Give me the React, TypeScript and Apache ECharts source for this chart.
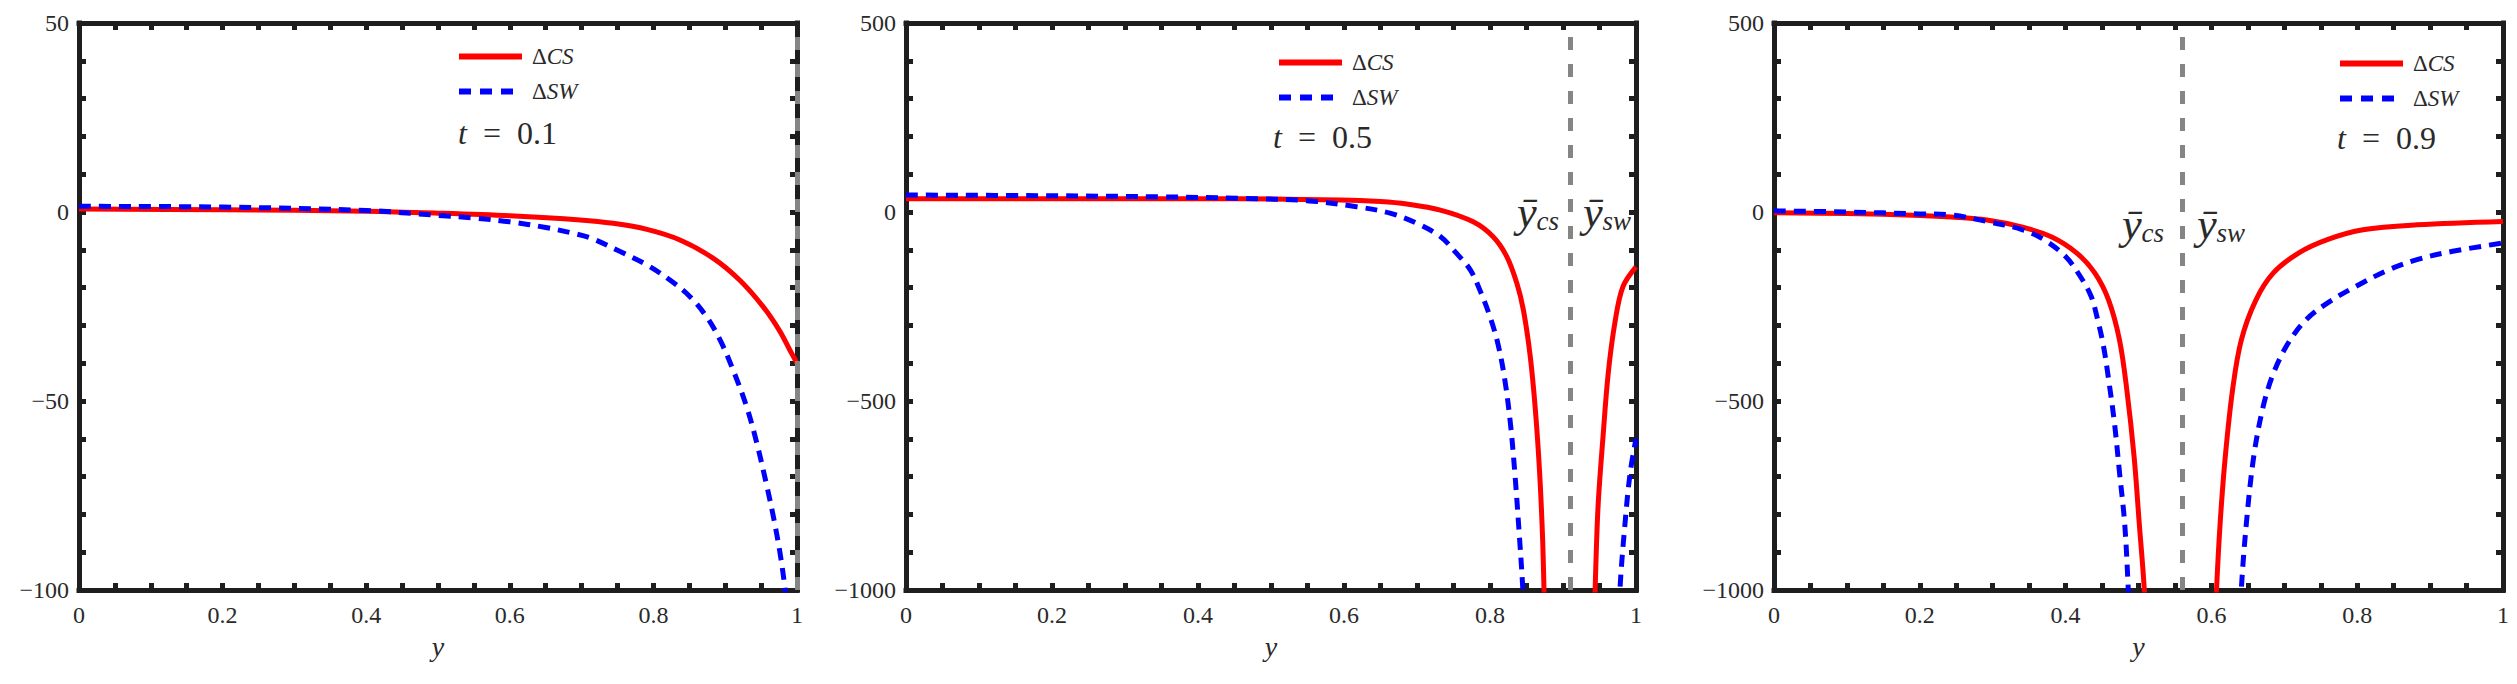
import React, { useEffect, useRef } from "react";
import * as echarts from "echarts";

// ---- data ----
const panelTimes = ["0.1", "0.5", "0.9"];
const barPositions = [0.997, 0.908, 0.556];
const yMins = [-100, -1000, -1000];
const yMaxs = [50, 500, 500];
const yIntervals = [50, 500, 500];
const seriesNames = ["ΔCS", "ΔSW"];

// panel 1 (t = 0.1)
const p1Cs = [[0, 0.8], [0.2, 0.6], [0.4, 0.2], [0.5, -0.3], [0.6, -1.0], [0.698, -2.1], [0.744, -3.0], [0.791, -4.6], [0.837, -7.4], [0.883, -12.2], [0.92, -18.0], [0.953, -25.1], [0.976, -31.5], [0.99, -36.5], [1, -40]];
const p1Sw = [[0, 1.5], [0.2, 1.3], [0.4, 0.4], [0.5, -0.9], [0.55, -1.6], [0.6, -2.6], [0.65, -4.1], [0.69, -5.7], [0.714, -7.0], [0.753, -10.4], [0.791, -14.0], [0.823, -18.0], [0.851, -22.4], [0.874, -27.7], [0.893, -33.9], [0.911, -41.8], [0.93, -51.6], [0.944, -61.1], [0.958, -72.5], [0.967, -80.5], [0.976, -89.8], [0.983, -99.2], [0.986, -106]];

// panel 2 (t = 0.5)
const p2CsLeft = [[0, 35], [0.2, 35], [0.4, 35], [0.458, 35], [0.595, 32], [0.65, 27.5], [0.686, 21], [0.732, 5], [0.777, -26], [0.804, -65], [0.823, -118], [0.837, -190], [0.846, -262], [0.855, -380], [0.862, -520], [0.868, -690], [0.872, -860], [0.874, -1000], [0.876, -1150]];
const p2CsRight = [[0.942, -1150], [0.944, -1000], [0.948, -780], [0.955, -590], [0.962, -426], [0.971, -294], [0.982, -198], [1, -145]];
const p2SwLeft = [[0, 45], [0.2, 43], [0.35, 40], [0.458, 36], [0.549, 30], [0.617, 14], [0.663, -3], [0.7, -30], [0.732, -65], [0.754, -109], [0.773, -153], [0.786, -206], [0.8, -277], [0.811, -350], [0.82, -440], [0.828, -560], [0.834, -690], [0.84, -850], [0.845, -1000], [0.848, -1150]];
const p2SwRight = [[0.976, -1150], [0.978, -1000], [0.985, -823], [0.992, -690], [1, -600]];

// panel 3 (t = 0.9)
const p3CsLeft = [[0, -2], [0.1, -4], [0.2, -9], [0.243, -13], [0.292, -21], [0.341, -40], [0.381, -66], [0.415, -108], [0.44, -161], [0.459, -233], [0.474, -339], [0.484, -471], [0.494, -648], [0.501, -823], [0.508, -1000], [0.511, -1150]];
const p3CsRight = [[0.604, -1150], [0.607, -1000], [0.612, -823], [0.619, -648], [0.629, -471], [0.641, -339], [0.661, -233], [0.685, -161], [0.72, -108], [0.759, -73], [0.808, -47], [0.882, -34], [1, -25]];
const p3SwLeft = [[0, 3], [0.1, 0], [0.2, -5], [0.243, -8], [0.292, -25], [0.341, -47], [0.371, -74], [0.4, -118], [0.42, -170], [0.435, -223], [0.444, -285], [0.452, -355], [0.459, -443], [0.467, -558], [0.474, -690], [0.481, -823], [0.486, -1000], [0.489, -1150]];
const p3SwRight = [[0.638, -1150], [0.641, -1000], [0.648, -823], [0.658, -648], [0.671, -515], [0.685, -427], [0.705, -348], [0.73, -285], [0.759, -241], [0.798, -197], [0.843, -153], [0.882, -126], [0.931, -104], [1, -82]];

const csBranches = [[p1Cs], [p2CsLeft, p2CsRight], [p3CsLeft, p3CsRight]];
const swBranches = [[p1Sw], [p2SwLeft, p2SwRight], [p3SwLeft, p3SwRight]];

// ---- layout / style ----
const FONT = "Liberation Serif";
const FRAME = "#1e1e1e";
const TEXT = "#2a2a2a";
const RED = "#ff0000";
const BLUE = "#0000ff";
const GRAY = "#858585";
const grids = [
  { left: 79, top: 23, width: 718, height: 567 },
  { left: 906, top: 23, width: 730, height: 567 },
  { left: 1774, top: 23, width: 729, height: 567 },
];
const legendPos = [
  { left: 456, top: 45 },
  { left: 1276, top: 51 },
  { left: 2337, top: 52 },
];
const tPos = [
  { left: 458, top: 117 },
  { left: 1273, top: 121 },
  { left: 2337, top: 122 },
];
const barLabelPos = [
  [],
  [{ left: 1517, top: 190, sub: "cs" }, { left: 1583, top: 190, sub: "sw" }],
  [{ left: 2122, top: 202, sub: "cs" }, { left: 2197, top: 202, sub: "sw" }],
];

function tickCfg() {
  return {
    axisLine: { show: true, onZero: false, lineStyle: { color: FRAME, width: 5, cap: "square" } },
    axisTick: { show: true, inside: true, length: 7, lineStyle: { color: FRAME, width: 5 } },
    minorTick: { show: true, length: 7, lineStyle: { color: FRAME, width: 5 } },
    splitLine: { show: false },
    minorSplitLine: { show: false },
  };
}

function buildOption() {
  const xAxis: any[] = [];
  const yAxis: any[] = [];
  const series: any[] = [];
  const legend: any[] = [];
  const title: any[] = [];

  grids.forEach((g, i) => {
    const base = tickCfg();
    xAxis.push({
      ...base,
      type: "value",
      gridIndex: i,
      min: 0,
      max: 1,
      interval: 0.2,
      position: "bottom",
      minorTick: { ...base.minorTick, splitNumber: 4 },
      axisLabel: { margin: 13, fontSize: 24, fontFamily: FONT, color: TEXT },
      name: "y",
      nameLocation: "middle",
      nameGap: 42,
      nameTextStyle: { fontSize: 28, fontStyle: "italic", fontFamily: FONT, color: TEXT },
    });
    xAxis.push({
      ...base,
      type: "value",
      gridIndex: i,
      min: 0,
      max: 1,
      interval: 0.2,
      position: "top",
      minorTick: { ...base.minorTick, splitNumber: 4 },
      axisLabel: { show: false },
    });
    yAxis.push({
      ...base,
      type: "value",
      gridIndex: i,
      min: yMins[i],
      max: yMaxs[i],
      interval: yIntervals[i],
      position: "left",
      minorTick: { ...base.minorTick, splitNumber: 5 },
      axisLabel: {
        margin: 10,
        fontSize: 24,
        fontFamily: FONT,
        color: TEXT,
        formatter: (v: number) => String(v).replace("-", "\u2212"),
      },
    });
    yAxis.push({
      ...base,
      type: "value",
      gridIndex: i,
      min: yMins[i],
      max: yMaxs[i],
      interval: yIntervals[i],
      position: "right",
      minorTick: { ...base.minorTick, splitNumber: 5 },
      axisLabel: { show: false },
    });

    csBranches[i].forEach((d, k) => {
      series.push({
        type: "line",
        name: seriesNames[0],
        xAxisIndex: 2 * i,
        yAxisIndex: 2 * i,
        data: d,
        symbol: "none",
        smooth: 0.35,
        clip: true,
        lineStyle: { color: RED, width: 5 },
        itemStyle: { color: RED },
        z: 3,
        markLine:
          k === 0
            ? {
                silent: true,
                symbol: ["none", "none"],
                label: { show: false },
                lineStyle: { color: GRAY, width: 5, type: [13, 14] },
                data: [{ xAxis: barPositions[i] }],
              }
            : undefined,
      });
    });
    swBranches[i].forEach((d) => {
      series.push({
        type: "line",
        name: seriesNames[1],
        xAxisIndex: 2 * i,
        yAxisIndex: 2 * i,
        data: d,
        symbol: "none",
        smooth: 0.35,
        clip: true,
        lineStyle: { color: BLUE, width: 5, type: [12, 8] },
        itemStyle: { color: BLUE },
        z: 4,
      });
    });

    legend.push({
      show: true,
      orient: "vertical",
      left: legendPos[i].left,
      top: legendPos[i].top,
      padding: 0,
      itemWidth: 63,
      itemHeight: 20,
      itemGap: 12,
      selectedMode: false,
      itemStyle: { opacity: 0 },
      data: [
        { name: seriesNames[0], lineStyle: { color: RED, width: 6, type: "solid" }, itemStyle: { opacity: 0 } },
        { name: seriesNames[1], lineStyle: { color: BLUE, width: 6, type: [12, 9] }, itemStyle: { opacity: 0 } },
      ],
      formatter: (name: string) => (name === "ΔCS" ? "{d|Δ}{i|CS}" : "{d|Δ}{i|SW}"),
      textStyle: {
        fontFamily: FONT,
        fontSize: 23,
        fontWeight: "normal",
        color: TEXT,
        lineHeight: 20,
        rich: {
          d: { fontFamily: FONT, fontSize: 23, fontWeight: "normal", color: TEXT, padding: [0, 0, 0, 5] },
          i: { fontFamily: FONT, fontSize: 23, fontWeight: "normal", fontStyle: "italic", color: TEXT },
        },
      },
    });

    title.push({
      text: "{i|t}{n|\u2002=\u2002" + panelTimes[i] + "}",
      left: tPos[i].left,
      top: tPos[i].top,
      padding: 0,
      textStyle: {
        fontWeight: "normal",
        fontFamily: FONT,
        rich: {
          i: { fontFamily: FONT, fontSize: 32, fontWeight: "normal", fontStyle: "italic", color: TEXT },
          n: { fontFamily: FONT, fontSize: 32, fontWeight: "normal", color: TEXT },
        },
      },
    });
    barLabelPos[i].forEach((p) => {
      title.push({
        text: "{y|\u0233}{s|" + p.sub + "}",
        left: p.left,
        top: p.top,
        padding: 0,
        textStyle: {
          fontWeight: "normal",
          fontFamily: FONT,
          rich: {
            y: { fontFamily: FONT, fontSize: 44, fontWeight: "normal", fontStyle: "italic", color: TEXT },
            s: { fontFamily: FONT, fontSize: 27, fontWeight: "normal", fontStyle: "italic", color: TEXT, verticalAlign: "bottom" },
          },
        },
      });
    });
  });

  return {
    animation: false,
    backgroundColor: "#ffffff",
    grid: grids.map((g) => ({ ...g, containLabel: false })),
    xAxis,
    yAxis,
    series,
    legend,
    title,
  };
}

export default function App() {
  const ref = useRef<HTMLDivElement>(null);
  useEffect(() => {
    document.body.style.margin = "0";
    if (!ref.current) return;
    const chart = echarts.init(ref.current, undefined, { renderer: "svg" });
    chart.setOption(buildOption() as any);
    return () => chart.dispose();
  }, []);
  return (
    <div
      ref={ref}
      style={{ position: "absolute", left: 0, top: 0, width: 2517, height: 684, background: "#fff" }}
    />
  );
}
